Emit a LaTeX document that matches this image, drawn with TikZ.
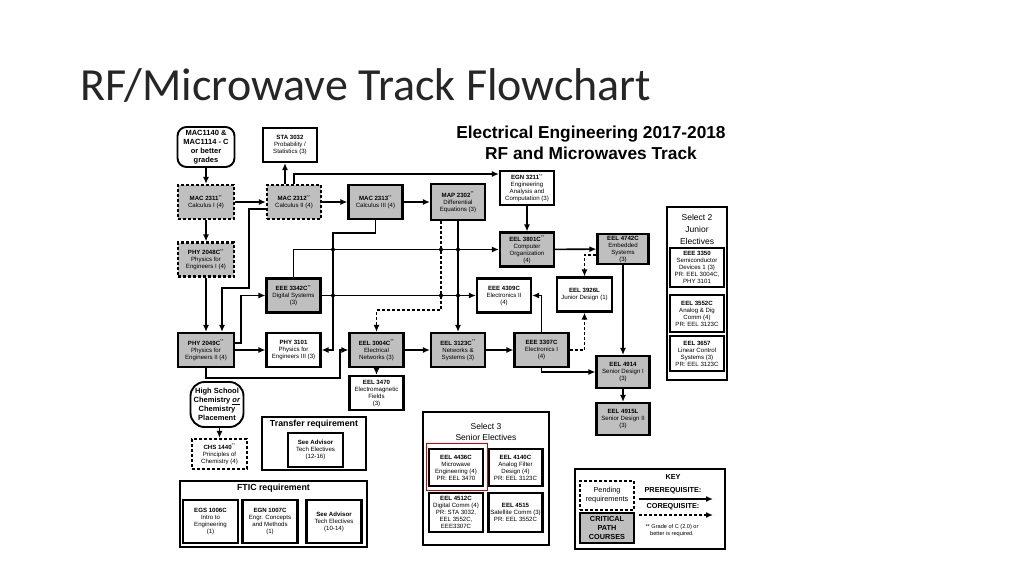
\documentclass[tikz,border=0pt]{standalone}
\usepackage{fontspec}
\setmainfont{Liberation Sans}
\newfontfamily\titlefont{Carlito}
\usetikzlibrary{arrows.meta}

\begin{document}
\begin{tikzpicture}[x=1pt,y=-1pt]
\tikzstyle{crs}=[draw, line width=2.1pt, fill=black!25, minimum width=54pt, minimum height=34pt, inner sep=1pt, align=center, font=\fontsize{6.1}{7}\selectfont]
\tikzstyle{pend}=[crs, dash pattern=on 3pt off 2pt]
\tikzstyle{wcrs}=[crs, fill=white]
\tikzstyle{wpend}=[pend, fill=white]
\tikzstyle{note}=[draw, line width=1.9pt, rounded corners=9pt, align=center, inner sep=1pt, font=\bfseries\fontsize{7.5}{9}\selectfont]
\tikzstyle{grp}=[draw, line width=1.7pt]
\tikzstyle{grptitle}=[align=center, font=\bfseries\fontsize{8.8}{10}\selectfont]
\tikzstyle{keytext}=[align=center, font=\bfseries\fontsize{7.3}{8}\selectfont]
\tikzstyle{pre}=[line width=1.6pt, -{Latex[length=7pt,width=6pt]}]
\tikzstyle{coreq}=[pre, dash pattern=on 3pt off 2pt]
\useasboundingbox (0,0) rectangle (1024,576);

% titles
\draw (80,100) node (title) [anchor=base west, inner sep=0pt, text=black!85, font=\titlefont\fontsize{46}{54}\selectfont] {RF/Microwave Track Flowchart};
\draw (591,142.5) node (head) [align=center, font=\bfseries\fontsize{17.3}{21}\selectfont] {Electrical Engineering 2017-2018\\RF and Microwaves Track};

% courses
\draw (206,147) node (mac1140) [note, minimum width=57pt, minimum height=40pt] {MAC1140 \&\\MAC1114 - C\\or better\\grades};
\draw (290,145) node (sta3032) [wcrs] {\textbf{STA 3032}\\Probability /\\Statistics (3)};
\draw (206,202) node (mac2311) [pend, minimum width=56pt] {\textbf{MAC 2311}\textsuperscript{**}\\Calculus I (4)};
\draw (294,202) node (mac2312) [pend] {\textbf{MAC 2312}\textsuperscript{**}\\Calculus II (4)};
\draw (375.5,202) node (mac2313) [crs] {\textbf{MAC 2313}\textsuperscript{**}\\Calculus III (4)};
\draw (458,202) node (map2302) [crs, minimum height=36pt] {\textbf{MAP 2302}\textsuperscript{**}\\Differential\\Equations (3)};
\draw (527,188) node (egn3211) [wcrs] {\textbf{EGN 3211}\textsuperscript{**}\\Engineering\\Analysis and\\Computation (3)};
\draw (527,249.5) node (eel3801c) [crs] {\textbf{EEL 3801C}\textsuperscript{**}\\Computer\\Organization\\(4)};
\draw (623,249) node (eel4742c) [crs, minimum width=51pt, minimum height=30pt] {\textbf{EEL 4742C}\\Embedded\\Systems\\(3)};
\draw (206,259.5) node (phy2048c) [pend, minimum width=56pt] {\textbf{PHY 2048C}\textsuperscript{**}\\Physics for\\Engineers I (4)};
\draw (293.5,295.5) node (eee3342c) [crs] {\textbf{EEE 3342C}\textsuperscript{**}\\Digital Systems\\(3)};
\draw (504,295.5) node (eee4309c) [wcrs] {\textbf{EEE 4309C}\\Electronics II\\(4)};
\draw (584.5,294.5) node (eel3926l) [wcrs, minimum width=55pt] {\textbf{EEL 3926L}\\Junior Design (1)};
\draw (206,350) node (phy2049c) [crs, minimum width=56pt] {\textbf{PHY 2049C}\textsuperscript{**}\\Physics for\\Engineers II (4)};
\draw (293.5,350) node (phy3101) [wcrs] {\textbf{PHY 3101}\\Physics for\\Engineers III (3)};
\draw (376.5,350) node (eel3004c) [crs] {\textbf{EEL 3004C}\textsuperscript{**}\\Electrical\\Networks (3)};
\draw (458,350) node (eel3123c) [crs] {\textbf{EEL 3123C}\textsuperscript{**}\\Networks \&\\Systems (3)};
\draw (541.5,350) node (eee3307c) [crs] {\textbf{EEE 3307C}\\Electronics I\\(4)};
\draw (376.5,393) node (eel3470) [wcrs] {\textbf{EEL 3470}\\Electromagnetic\\Fields\\(3)};
\draw (623,372) node (eel4914) [crs, minimum width=53pt, minimum height=32pt] {\textbf{EEL 4914}\\Senior Design I\\(3)};
\draw (623,419) node (eel4915l) [crs, minimum width=53pt, minimum height=32pt] {\textbf{EEL 4915L}\\Senior Design II\\(3)};
\draw (217,404.5) node (hschem) [note, minimum width=53pt, minimum height=45pt, rounded corners=14pt] {High School\\Chemistry \underline{\textit{or}}\\Chemistry\\Placement};
\draw (219.5,454) node (chs1440) [wpend, minimum width=55pt, minimum height=30pt] {\textbf{CHS 1440}\textsuperscript{**}\\Principles of\\Chemistry (4)};

% transfer and FTIC
\draw[grp] (262,417) rectangle (366,470);
\draw (314,424.5) node (trtitle) [grptitle] {Transfer requirement};
\draw (315.5,450) node (seeadv1) [wcrs, minimum width=55pt] {\textbf{See Advisor}\\Tech Electives\\(12-16)};
\draw[grp] (180,481) rectangle (367,547);
\draw (273.5,488.5) node (ftictitle) [grptitle] {FTIC requirement};
\draw (210.5,521.5) node (egs1006c) [wcrs, minimum width=55pt, minimum height=43pt] {\textbf{EGS 1006C}\\Intro to\\Engineering\\(1)};
\draw (270,521.5) node (egn1007c) [wcrs, minimum width=55pt, minimum height=43pt] {\textbf{EGN 1007C}\\Engr. Concepts\\and Methods\\(1)};
\draw (334,521.5) node (seeadv2) [wcrs, minimum width=55pt, minimum height=43pt] {\textbf{See Advisor}\\Tech Electives\\(10-14)};

% senior electives
\draw[grp] (423,412) rectangle (549,545);
\draw (486,432) node (sel3) [align=center, font=\fontsize{8.5}{10.5}\selectfont] {Select 3\\Senior Electives};
\draw (456,467.5) node (eel4436c) [wcrs, minimum height=37pt] {\textbf{EEL 4436C}\\Microwave\\Engineering (4)\\PR: EEL 3470};
\draw (515.5,467.5) node (eel4140c) [wcrs, minimum height=37pt] {\textbf{EEL 4140C}\\Analog Filter\\Design (4)\\PR: EEL 3123C};
\draw (456,512.5) node (eel4512c) [wcrs, minimum height=39pt] {\textbf{EEL 4512C}\\Digital Comm (4)\\PR: STA 3032,\\EEL 3552C,\\EEE3307C};
\draw (515.5,512.5) node (eel4515) [wcrs, minimum height=39pt] {\textbf{EEL 4515}\\Satellite Comm (3)\\PR: EEL 3552C};
\draw[red!85!black, line width=0.8pt] (426,443) rectangle (487,490);

% junior electives
\draw[grp] (667,207) rectangle (727,380);
\draw (697,229) node (sel2) [align=center, font=\fontsize{8.5}{12}\selectfont] {Select 2\\Junior\\Electives};
\draw (697,267.5) node (eee3350) [wcrs, minimum height=39pt] {\textbf{EEE 3350}\\Semiconductor\\Devices 1 (3)\\PR: EEL 3004C,\\PHY 3101};
\draw (697,313.5) node (eel3552c) [wcrs, minimum height=37pt] {\textbf{EEL 3552C}\\Analog \& Dig\\Comm (4)\\PR: EEL 3123C};
\draw (697,353.5) node (eel3657) [wcrs, minimum height=35pt] {\textbf{EEL 3657}\\Linear Control\\Systems (3)\\PR: EEL 3123C};

% key
\draw[grp] (575,469) rectangle (725,549);
\draw (607,495.5) node (keypend) [wpend, minimum height=29pt, font=\fontsize{7.3}{9}\selectfont] {Pending\\requirements};
\draw (607,528) node (keycrit) [crs, minimum height=30pt, font=\bfseries\fontsize{7.3}{9}\selectfont] {CRITICAL\\PATH\\COURSES};
\draw (673,477) node (keytitle) [keytext] {KEY};
\draw (673,491) node (keypre) [keytext] {PREREQUISITE:};
\draw (673,507) node (keyco) [keytext] {COREQUISITE:};
\draw (672,530.5) node (keynote) [align=center, font=\fontsize{5.6}{7.5}\selectfont] {** Grade of C (2.0) or\\better is required.};
\coordinate (pa) at (639,499);
\coordinate (pb) at (713,499);
\coordinate (ca) at (639,515);
\coordinate (cb) at (713,515);
\draw[pre] (pa) -- (pb);
\draw[coreq] (ca) -- (cb);

% prerequisites
\draw[pre] (mac1140) -- (mac2311);
\draw[pre] (mac2311) -- (phy2048c);
\draw[pre] (mac2311) -- (mac2312);
\draw[pre] (phy2048c) -- (phy2049c);
\draw[pre] ([xshift=-9pt]mac2312.north) -- ([xshift=-9pt]mac2312.north |- sta3032.south);
\draw[pre] (mac2312.north) |- ([yshift=14pt]egn3211.west);
\draw[pre] (mac2312) -- (mac2313);
\draw[pre] (mac2313) -- (map2302);
\draw[pre] ([yshift=-7pt]mac2312.west) -- ++(-17,0) -- ++(0,79) -| ([xshift=16pt]phy2049c.north);
\draw[pre] (mac2313.south) -- ++(0,13) -- ++(-42.5,0) |- (phy3101.east);
\draw[pre] ([yshift=7pt]phy2049c.east) -- ++(6,0) |- (eee3342c.west);
\draw[pre] (phy2049c) -- (phy3101);
\draw[pre] (phy2049c.south) -- ++(0,10) -- ++(134,0) |- (eel3004c.west);
\draw[pre] (eee3342c.north) |- (eel3801c.west);
\draw[pre] (eee3342c) -- (eee4309c);
\draw[pre] (map2302) -- (eel3123c);
\draw[coreq] ([xshift=-17pt]map2302.south) -- ++(0,89) -| (eel3004c.north);
\draw[pre] (egn3211) -- (eel3801c);
\draw[pre] (eel3801c) -- (eel4742c);
\draw[coreq] ([yshift=-6pt]eel4742c.west) -| (eel3926l.north);
\draw[coreq] (eee3307c.east) -| (eel3926l.south);
\draw[pre] (eee3307c.north) |- (eee4309c.east);
\draw[pre] (eee3307c.south) |- (eel4914.west);
\draw[pre] (eel4742c) -- (eel4914);
\draw[pre] (eel4914) -- (eel4915l);
\draw[pre] (eel3004c) -- (eel3123c);
\draw[pre] (eel3123c) -- (eee3307c);
\draw[pre] (eel3004c) -- (eel3470);
\draw[pre] (hschem.south -| chs1440.north) -- (chs1440.north);

% crossings
\foreach \x in {333,441,458}
  \foreach \y in {249.5,295.5}
    \fill (\x,\y) circle (2pt);
\end{tikzpicture}
\end{document}
